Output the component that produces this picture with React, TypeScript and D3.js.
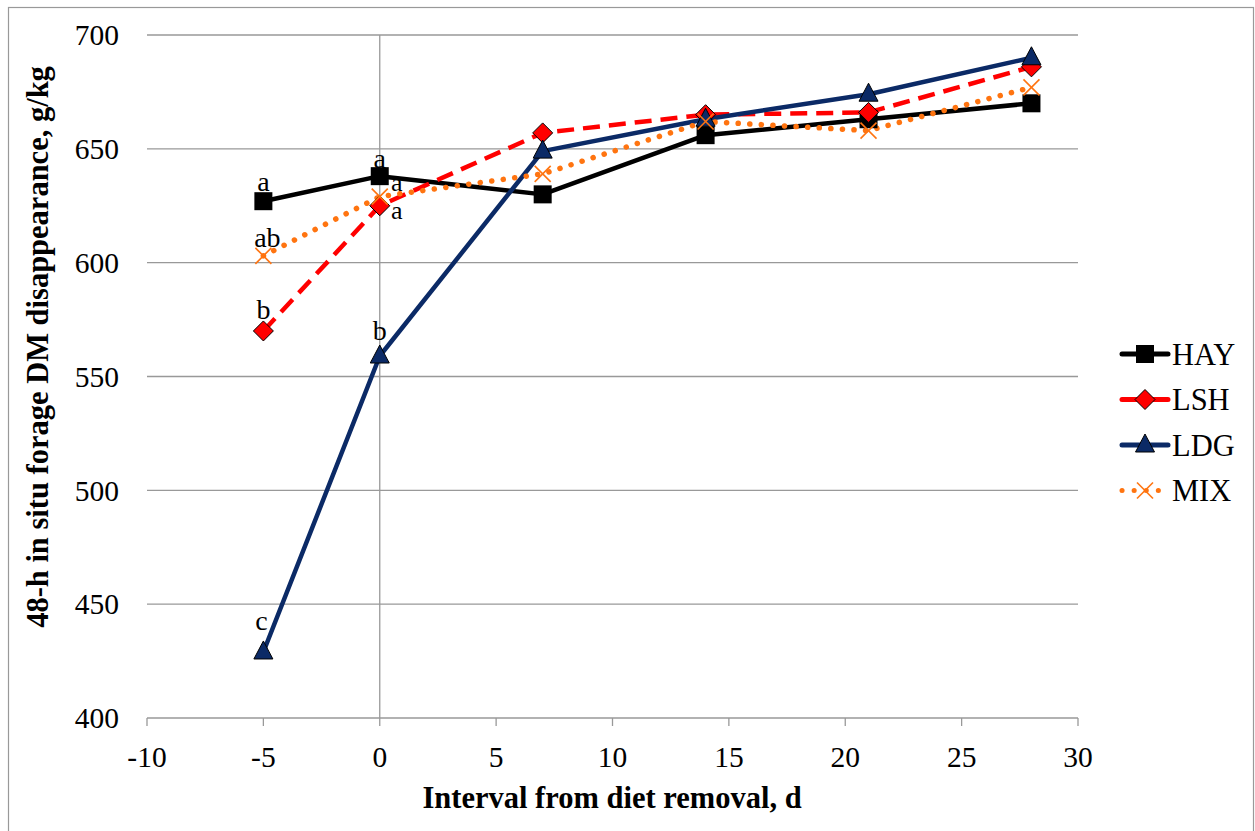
import React from "react";
import * as d3 from "d3";

const days = [-5, 0, 7, 14, 21, 28];
const hay = [627, 638, 630, 656, 663, 670];
const lsh = [570, 625, 657, 665, 666, 686];
const ldg = [429, 559, 649, 663, 674, 690];
const mix = [603, 629, 639, 662, 658, 677];
const xTicks = [-10, -5, 0, 5, 10, 15, 20, 25, 30];
const yTicks = [400, 450, 500, 550, 600, 650, 700];
const letters = [
  { x: -5, v: 627, t: "a", dx: 0, dy: -10, fs: 28 },
  { x: -5, v: 603, t: "ab", dx: 4, dy: -9, fs: 28 },
  { x: -5, v: 570, t: "b", dx: 0, dy: -12, fs: 28 },
  { x: -5, v: 429, t: "c", dx: -2, dy: -22, fs: 28 },
  { x: 0, v: 638, t: "a", dx: 0, dy: -8, fs: 28 },
  { x: 0, v: 629, t: "a", dx: 17, dy: -6, fs: 26 },
  { x: 0, v: 625, t: "a", dx: 17, dy: 13, fs: 26 },
  { x: 0, v: 559, t: "b", dx: 0, dy: -16, fs: 28 },
];

const series = [
  { name: "HAY", values: hay, color: "#000000", dash: "", marker: "square" },
  { name: "LSH", values: lsh, color: "#ff0000", dash: "17 9", marker: "diamond" },
  { name: "LDG", values: ldg, color: "#0b2a66", dash: "", marker: "triangle" },
  { name: "MIX", values: mix, color: "#ff7410", dash: "0.1 11.5", marker: "x" },
];

const W = 1255, H = 831;
const left = 147, right = 1078, top = 35, bottom = 718;
const x = d3.scaleLinear().domain([-10, 30]).range([left, right]);
const y = d3.scaleLinear().domain([400, 700]).range([bottom, top]);
const tf = { fontFamily: '"Liberation Serif", "Times New Roman", "DejaVu Serif", serif' };

function Marker({ type, cx, cy, color }: { type: string; cx: number; cy: number; color: string }) {
  if (type === "square") return <rect x={cx - 9} y={cy - 9} width={18} height={18} fill="#000" />;
  if (type === "diamond")
    return (
      <path d={`M${cx},${cy - 10}L${cx + 10},${cy}L${cx},${cy + 10}L${cx - 10},${cy}Z`} fill="#ff0000" stroke="#000" strokeWidth={1} />
    );
  if (type === "triangle")
    return (
      <path d={`M${cx},${cy - 11}L${cx + 9.5},${cy + 7}L${cx - 9.5},${cy + 7}Z`} fill={color} stroke="#000" strokeWidth={1} />
    );
  return (
    <g stroke={color} strokeWidth={1.6}>
      <line x1={cx - 8} y1={cy - 8} x2={cx + 8} y2={cy + 8} />
      <line x1={cx - 8} y1={cy + 8} x2={cx + 8} y2={cy - 8} />
    </g>
  );
}

export default function App() {
  const line = d3
    .line<[number, number]>()
    .x((d) => x(d[0]))
    .y((d) => y(d[1]));
  return (
    <svg width={W} height={H} style={{ position: "absolute", left: 0, top: 0 }}>
      <rect x={0} y={0} width={W} height={H} fill="#fff" />
      <rect x={8.5} y={7.5} width={1245} height={830} fill="none" stroke="#999" strokeWidth={1.2} />
      {yTicks.map((t) => (
        <g key={t}>
          <line x1={left} x2={right} y1={y(t)} y2={y(t)} stroke="#999" strokeWidth={1.3} />
          <text x={119} y={y(t)} dy="0.35em" textAnchor="end" fontSize={29.5} style={tf}>
            {t}
          </text>
        </g>
      ))}
      <line x1={x(0)} x2={x(0)} y1={top} y2={bottom} stroke="#999" strokeWidth={1.3} />
      {xTicks.map((t) => (
        <g key={t}>
          <line x1={x(t)} x2={x(t)} y1={bottom} y2={bottom + 8} stroke="#999" strokeWidth={1.3} />
          <text x={x(t)} y={767} textAnchor="middle" fontSize={29.5} style={tf}>
            {t}
          </text>
        </g>
      ))}
      <text x={612} y={808} textAnchor="middle" fontSize={30.5} fontWeight="bold" style={tf}>
        Interval from diet removal, d
      </text>
      <text
        transform={`translate(48, 347) rotate(-90)`}
        textAnchor="middle"
        fontSize={30.5}
        fontWeight="bold"
        style={tf}
      >
        48-h in situ forage DM disappearance, g/kg
      </text>
      {series.map((s) => (
        <path
          key={s.name}
          d={line(days.map((d, i) => [d, s.values[i]] as [number, number])) || ""}
          fill="none"
          stroke={s.color}
          strokeWidth={s.name === "MIX" ? 5.5 : 4.5}
          strokeDasharray={s.dash}
          strokeLinecap={s.name === "MIX" ? "round" : "butt"}
          strokeLinejoin="round"
        />
      ))}
      {letters.map((l, i) => (
        <text key={i} x={x(l.x) + l.dx} y={y(l.v) + l.dy} textAnchor="middle" fontSize={l.fs} style={tf}>
          {l.t}
        </text>
      ))}
      {series.map((s) => (
        <g key={s.name + "m"}>
          {days.map((d, i) => (
            <Marker key={i} type={s.marker} cx={x(d)} cy={y(s.values[i])} color={s.color} />
          ))}
        </g>
      ))}
      {series.map((s, i) => {
        const ly = 354 + i * 45.5;
        return (
          <g key={s.name + "l"}>
            <line
              x1={1122}
              x2={1168}
              y1={ly}
              y2={ly}
              stroke={s.color}
              strokeWidth={5}
              strokeDasharray={s.name === "MIX" ? "0.1 12" : ""}
              strokeLinecap="round"
            />
            <Marker type={s.marker} cx={1145} cy={ly} color={s.color} />
            <text x={1172} y={ly} dy="0.35em" fontSize={30.5} style={tf}>
              {s.name}
            </text>
          </g>
        );
      })}
    </svg>
  );
}
